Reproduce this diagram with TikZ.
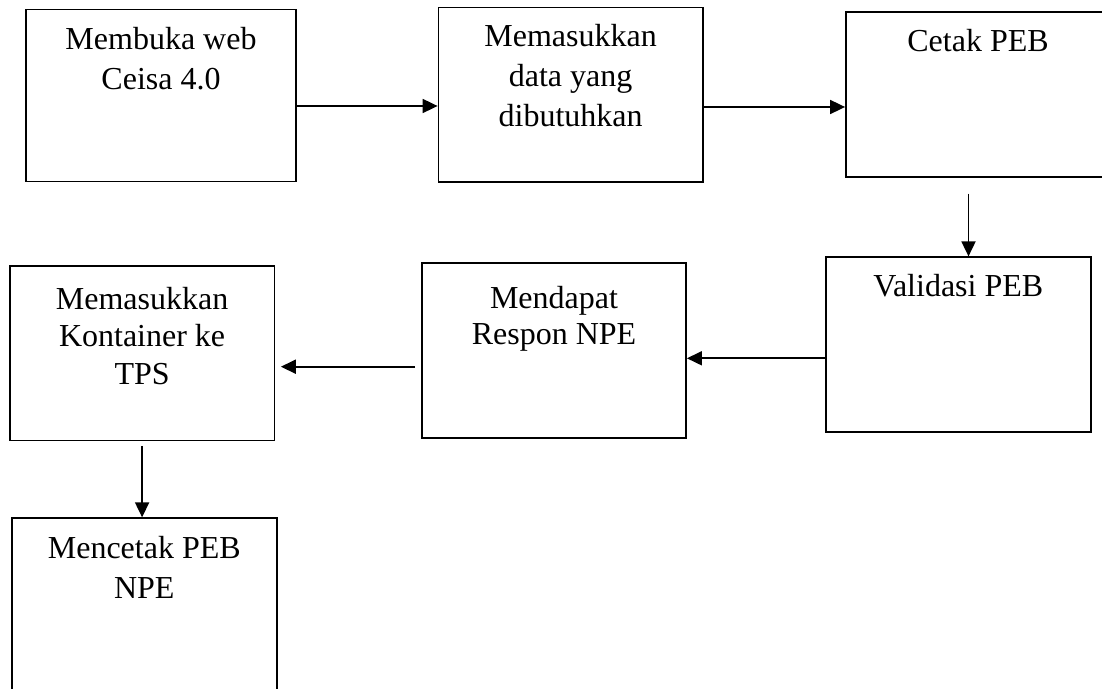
\documentclass[tikz,border=0pt]{standalone}
\usepackage{fontspec}
\setmainfont{Liberation Serif}
\usetikzlibrary{arrows.meta}

\begin{document}
\begin{tikzpicture}[
    x=0.5pt, y=-0.5pt,
    font=\rmfamily\fontsize{16}{20}\selectfont,
    >={Triangle[length=7.5pt, width=7pt]},
    proc/.style={draw=black, line width=0.9pt, rectangle, inner sep=0pt},
    flow/.style={->, line width=0.9pt, draw=black},
    txt/.style={align=center, inner sep=0pt, anchor=north}
]
    \useasboundingbox (0,0) rectangle (1102,689);

    % top row
    \node[proc, minimum width=135pt, minimum height=86pt] (web) at (161,95.5) {};
    \node[txt] (webtxt) at ([yshift=-9.3pt]web.north) {Membuka web\\Ceisa 4.0};

    \node[proc, minimum width=132.1pt, minimum height=87.1pt] (input) at (570.6,94.6) {};
    \node[txt] (inputtxt) at ([yshift=-8.65pt]input.north) {Memasukkan\\data yang\\dibutuhkan};

    \node[proc, minimum width=132pt, minimum height=82.8pt] (print) at (978,94.5) {};
    \node[txt] (printtxt) at ([yshift=-9.05pt]print.north) {Cetak PEB};

    % middle row
    \node[proc, minimum width=132.35pt, minimum height=87.2pt] (valid) at (958.3,344.5) {};
    \node[txt] (validtxt) at ([yshift=-8.75pt]valid.north) {Validasi PEB};

    \node[proc, minimum width=132pt, minimum height=87.25pt] (resp) at (554,350.5) {};
    \node[txt, font=\fontsize{16}{18}\selectfont] (resptxt) at ([yshift=-11.55pt]resp.north) {Mendapat\\Respon NPE};

    \node[proc, minimum width=132.35pt, minimum height=87.25pt] (cont) at (142.1,353.3) {};
    \node[txt, font=\fontsize{16}{18.75}\selectfont] (conttxt) at ([yshift=-10.7pt]cont.north) {Memasukkan\\Kontainer ke\\TPS};

    % bottom
    \node[proc, minimum width=132.35pt, minimum height=87.25pt] (final) at (144.3,605.5) {};
    \node[txt] (finaltxt) at ([yshift=-9.05pt]final.north) {Mencetak PEB\\NPE};

    % arrows
    \draw[flow] ([yshift=-5.25pt]web.east) -- ([yshift=-5.25pt]web.east -| input.west);
    \draw[flow] ([yshift=-6.2pt]input.east) -- ([yshift=-6.2pt]input.east -| print.west);
    \draw[flow, shorten <=7.7pt] ([xshift=-4.75pt]print.south) -- ([xshift=-4.75pt]print.south |- valid.north);
    \draw[flow] ([yshift=-6.9pt]valid.west) -- ([yshift=-6.9pt]valid.west -| resp.east);
    \draw[flow, shorten <=3pt, shorten >=2.75pt] ([yshift=-8.1pt]resp.west) -- ([yshift=-8.1pt]resp.west -| cont.east);
    \draw[flow, shorten <=2.25pt] (cont.south) -- (cont.south |- final.north);
\end{tikzpicture}
\end{document}
